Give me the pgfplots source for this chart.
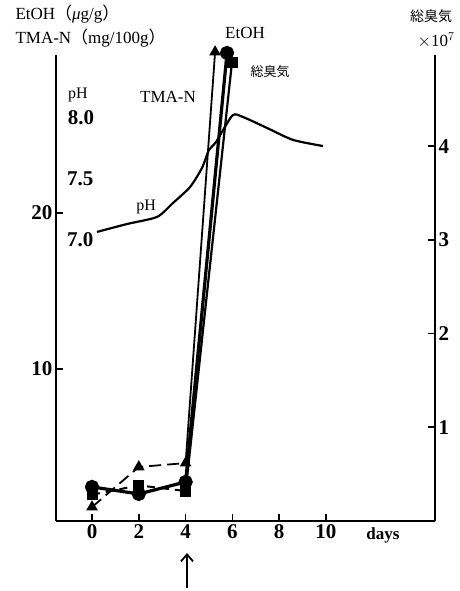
\documentclass[border=0pt]{standalone}
\usepackage{fontspec}
\setmainfont{Liberation Serif}
\newfontfamily\jp{Noto Sans CJK JP}
\usepackage{pgfplots}
\pgfplotsset{compat=1.18}
\usetikzlibrary{arrows.meta}

\begin{document}
\begin{tikzpicture}
\path[use as bounding box] (-56pt,-70pt) rectangle (403pt,521pt);
\pgfplotsset{
  base/.style={
    scale only axis, width=379pt, height=466pt,
    at={(0pt,0pt)}, anchor=south west,
    xmin=-1.54, xmax=14.66, clip=false,
    axis line style={line width=2.2pt},
    tick style={line width=1.6pt, black},
    major tick length=7pt,
    /pgf/number format/assume math mode=true,
    ticklabel style={font=\fontsize{21}{21}\selectfont\bfseries},
  },
}
% left axis: EtOH and TMA-N
\begin{axis}[base,
  axis x line*=bottom, axis y line*=left,
  tick align=inside,
  xtick={0,2,4,6,8,10},
  ymin=0.256, ymax=30.13, ytick={10,20},
]
% TMA-N
\addplot[black, line width=1.8pt, dash pattern=on 12pt off 6pt,
  mark=triangle*, mark size=5pt, mark options={solid}]
  coordinates {(0,1.15) (2,3.72) (4,3.97)};
\addplot[black, line width=1.8pt, mark=triangle*, mark size=5pt,
  mark indices={2}]
  coordinates {(4,3.97) (5.26,30.32)};
% EtOH
\addplot[black, line width=3.2pt, mark=*, mark size=5.5pt]
  coordinates {(0,2.44) (2,1.99) (4,2.76) (5.77,30.26)};
\end{axis}
% right axis: total odour
\begin{axis}[base,
  axis x line=none, axis y line*=right,
  tick align=inside,
  ymin=0, ymax=4.973, ytick={1,2,3,4},
]
\addplot[black, line width=2pt, dash pattern=on 8pt off 6pt,
  mark=square*, mark size=4.5pt, mark options={solid}]
  coordinates {(0,0.28) (2,0.38) (4,0.32)};
\addplot[black, line width=2.2pt, mark=square*, mark size=4.5pt,
  mark indices={2}]
  coordinates {(4,0.32) (5.98,4.89)};
\end{axis}
% pH curve on its own scale
\begin{axis}[base, hide axis, ymin=4.697, ymax=8.516]
\addplot[black, line width=2.2pt, smooth, tension=0.4]
  coordinates {(0.21,7.066) (1.5,7.131) (2.78,7.189) (3.46,7.303)
    (4.19,7.434) (4.7,7.59) (5.0,7.738) (5.3,7.803) (6.0,8.02)
    (6.45,8.008) (7.48,7.918) (8.59,7.82) (9.87,7.77)};
\node[font=\fontsize{21}{21}\selectfont\bfseries] at (axis cs:-0.47,8.0) {8.0};
\node[font=\fontsize{21}{21}\selectfont\bfseries] at (axis cs:-0.5,7.5) {7.5};
\node[font=\fontsize{21}{21}\selectfont\bfseries] at (axis cs:-0.5,7.0) {7.0};
\node[font=\fontsize{16}{16}\selectfont] at (axis cs:2.31,7.27) {pH};
\end{axis}
% labels
\node[anchor=west, font=\fontsize{17}{17}\selectfont] at (-44pt,507pt)
  {EtOH{\jp （}\textit{μ}g/g{\jp ）}};
\node[anchor=west, font=\fontsize{17}{17}\selectfont] at (-44pt,483pt)
  {TMA-N{\jp （}mg/100g{\jp ）}};
\node[font=\fontsize{14}{14}\selectfont\jp] at (375pt,505pt) {総臭気};
\node[font=\fontsize{17}{17}\selectfont] at (380pt,481pt) {$\times$10$^7$};
\node[font=\fontsize{17}{17}\selectfont] at (189pt,488pt) {EtOH};
\node[font=\fontsize{13}{13}\selectfont\jp] at (214pt,449pt) {総臭気};
\node[font=\fontsize{17}{17}\selectfont] at (112pt,424pt) {TMA-N};
\node[font=\fontsize{16}{16}\selectfont] at (22pt,426pt) {pH};
\node[font=\fontsize{17}{17}\selectfont\bfseries] at (327pt,-14pt) {days};
\draw[-{Straight Barb[length=7pt,width=12pt]}, line width=1.8pt]
  (131pt,-67pt) -- (131pt,-32pt);
\end{tikzpicture}
\end{document}
